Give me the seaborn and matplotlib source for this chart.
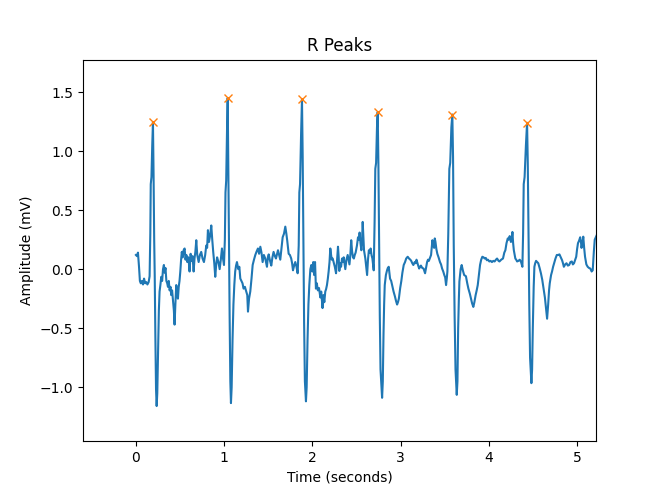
import numpy as np
import pandas as pd
import seaborn as sns
import matplotlib as mpl
mpl.use("Agg")
import matplotlib.pyplot as plt

# ECG trace, (time in s, amplitude in mV)
ecg_points = [
    (0.000, 0.12), (0.012, 0.11), (0.023, 0.14), (0.035, 0.02), (0.045, -0.10),
    (0.055, -0.12), (0.068, -0.10), (0.080, -0.13), (0.092, -0.08), (0.105, -0.12),
    (0.118, -0.11), (0.130, -0.13), (0.144, -0.11), (0.155, -0.06), (0.163, 0.30),
    (0.168, 0.72), (0.176, 0.78), (0.185, 1.05), (0.193, 1.245), (0.200, 0.80),
    (0.207, 0.25), (0.213, -0.05), (0.220, -0.55), (0.228, -1.02), (0.235, -1.16),
    (0.242, -1.05), (0.250, -0.75), (0.260, -0.35), (0.268, -0.19), (0.278, -0.13),
    (0.287, -0.065), (0.297, -0.10), (0.307, 0.00), (0.317, 0.035), (0.325, -0.03),
    (0.335, 0.01), (0.345, -0.10), (0.355, -0.12), (0.363, -0.15), (0.372, -0.10),
    (0.382, -0.18), (0.392, -0.15), (0.400, -0.22), (0.410, -0.18), (0.420, -0.26),
    (0.430, -0.35), (0.438, -0.47), (0.447, -0.30), (0.457, -0.135), (0.466, -0.20),
    (0.476, -0.25), (0.485, -0.15), (0.494, -0.10), (0.503, -0.02), (0.512, 0.08),
    (0.520, 0.146), (0.530, 0.10), (0.540, 0.16), (0.552, 0.175), (0.562, 0.08),
    (0.572, 0.12), (0.582, 0.06), (0.595, 0.10), (0.608, -0.02), (0.620, 0.13),
    (0.630, 0.07), (0.642, 0.11), (0.654, -0.02), (0.664, 0.09), (0.674, 0.15),
    (0.684, 0.245), (0.695, 0.12), (0.711, 0.06), (0.725, 0.12), (0.740, 0.146),
    (0.755, 0.09), (0.771, 0.06), (0.785, 0.12), (0.797, 0.20), (0.807, 0.18),
    (0.816, 0.33), (0.828, 0.23), (0.840, 0.28), (0.854, 0.37), (0.865, 0.25),
    (0.876, 0.146), (0.888, 0.05), (0.899, -0.065), (0.910, 0.04), (0.920, 0.10),
    (0.935, 0.06), (0.949, 0.00), (0.962, 0.08), (0.975, 0.175), (0.987, 0.09),
    (0.998, 0.035), (1.008, 0.25), (1.015, 0.65), (1.023, 0.75), (1.033, 1.20),
    (1.040, 1.45), (1.047, 0.90), (1.055, 0.20), (1.062, -0.40), (1.070, -0.95),
    (1.077, -1.135), (1.085, -1.00), (1.095, -0.60), (1.105, -0.30), (1.115, -0.135),
    (1.125, -0.02), (1.135, 0.03), (1.145, 0.06), (1.160, 0.00), (1.172, 0.02),
    (1.183, -0.08), (1.195, -0.10), (1.208, -0.12), (1.220, -0.165), (1.235, -0.15),
    (1.250, -0.19), (1.262, -0.22), (1.270, -0.36), (1.282, -0.25), (1.296, -0.19),
    (1.310, -0.08), (1.323, 0.035), (1.338, 0.08), (1.353, 0.12), (1.368, 0.15),
    (1.383, 0.175), (1.396, 0.13), (1.410, 0.19), (1.423, 0.14), (1.436, 0.06),
    (1.450, 0.12), (1.466, 0.09), (1.485, 0.02), (1.495, 0.10), (1.505, 0.125),
    (1.520, 0.07), (1.534, 0.03), (1.547, 0.10), (1.560, 0.146), (1.575, 0.11),
    (1.587, 0.09), (1.600, 0.13), (1.610, 0.16), (1.623, 0.12), (1.636, 0.08),
    (1.650, 0.18), (1.663, 0.27), (1.678, 0.30), (1.693, 0.36), (1.705, 0.30),
    (1.715, 0.24), (1.731, 0.13), (1.745, 0.12), (1.760, 0.09), (1.770, 0.05),
    (1.780, -0.01), (1.793, 0.03), (1.806, 0.06), (1.820, 0.02), (1.833, -0.035),
    (1.845, 0.20), (1.852, 0.65), (1.860, 0.72), (1.872, 1.15), (1.882, 1.44),
    (1.890, 0.95), (1.898, 0.20), (1.906, -0.45), (1.915, -0.95), (1.927, -1.12),
    (1.935, -1.00), (1.945, -0.60), (1.955, -0.30), (1.965, -0.135), (1.977, 0.00),
    (1.988, 0.035), (2.000, -0.02), (2.010, 0.06), (2.020, -0.05), (2.030, 0.06),
    (2.040, -0.165), (2.050, -0.12), (2.062, -0.18), (2.075, -0.16), (2.090, -0.24),
    (2.100, -0.19), (2.108, -0.26), (2.115, -0.33), (2.125, -0.22), (2.135, -0.28),
    (2.146, -0.19), (2.155, -0.17), (2.165, -0.135), (2.175, -0.08), (2.184, -0.02),
    (2.194, 0.06), (2.203, 0.175), (2.212, 0.12), (2.220, 0.08), (2.230, 0.09),
    (2.240, 0.06), (2.254, 0.02), (2.268, -0.035), (2.280, 0.08), (2.290, 0.19),
    (2.298, 0.10), (2.305, -0.015), (2.315, 0.05), (2.325, 0.02), (2.336, 0.09),
    (2.346, 0.06), (2.355, 0.10), (2.364, 0.05), (2.373, 0.00), (2.386, 0.08),
    (2.400, 0.12), (2.410, 0.08), (2.420, 0.04), (2.430, 0.12), (2.440, 0.245),
    (2.450, 0.15), (2.460, 0.10), (2.470, 0.09), (2.480, 0.12), (2.490, 0.14),
    (2.505, 0.20), (2.517, 0.27), (2.527, 0.25), (2.535, 0.31), (2.545, 0.22),
    (2.555, 0.16), (2.563, 0.25), (2.570, 0.40), (2.578, 0.28), (2.585, 0.16),
    (2.593, 0.12), (2.600, 0.09), (2.610, 0.02), (2.620, -0.05), (2.630, 0.08),
    (2.640, 0.16), (2.650, 0.14), (2.660, 0.175), (2.670, 0.12), (2.680, 0.09),
    (2.695, -0.01), (2.705, 0.40), (2.713, 0.85), (2.722, 0.90), (2.732, 1.20),
    (2.740, 1.33), (2.748, 0.90), (2.756, 0.20), (2.764, -0.40), (2.772, -0.85),
    (2.790, -1.09), (2.798, -0.95), (2.806, -0.55), (2.813, -0.30), (2.820, -0.135),
    (2.833, -0.05), (2.846, -0.01), (2.855, 0.01), (2.865, 0.02), (2.873, -0.03),
    (2.880, -0.08), (2.893, -0.10), (2.905, -0.14), (2.920, -0.19), (2.935, -0.23),
    (2.948, -0.27), (2.960, -0.30), (2.970, -0.28), (2.980, -0.25), (2.995, -0.16),
    (3.008, -0.10), (3.020, -0.03), (3.035, 0.035), (3.050, 0.06), (3.063, 0.09),
    (3.080, 0.105), (3.095, 0.09), (3.110, 0.08), (3.120, 0.07), (3.132, 0.05),
    (3.144, 0.035), (3.160, 0.06), (3.170, 0.05), (3.180, 0.08), (3.195, 0.04),
    (3.210, 0.005), (3.220, 0.02), (3.230, 0.03), (3.245, 0.01), (3.260, 0.005),
    (3.277, -0.035), (3.290, 0.02), (3.300, 0.06), (3.310, 0.08), (3.320, 0.07),
    (3.330, 0.09), (3.345, 0.12), (3.360, 0.245), (3.370, 0.20), (3.380, 0.18),
    (3.387, 0.26), (3.395, 0.23), (3.405, 0.17), (3.416, 0.13), (3.430, 0.10),
    (3.446, 0.06), (3.458, 0.04), (3.470, 0.005), (3.483, -0.02), (3.495, -0.05),
    (3.505, -0.07), (3.515, -0.135), (3.523, -0.08), (3.530, -0.02), (3.540, 0.30),
    (3.552, 0.85), (3.562, 0.90), (3.575, 1.20), (3.586, 1.31), (3.594, 0.95),
    (3.602, 0.20), (3.612, -0.40), (3.622, -0.85), (3.636, -1.065), (3.644, -0.95),
    (3.652, -0.50), (3.660, -0.25), (3.666, -0.105), (3.680, 0.00), (3.692, 0.035),
    (3.705, -0.01), (3.720, -0.05), (3.740, -0.06), (3.755, -0.12), (3.768, -0.165),
    (3.785, -0.21), (3.798, -0.25), (3.810, -0.29), (3.824, -0.32), (3.836, -0.28),
    (3.850, -0.22), (3.862, -0.18), (3.874, -0.135), (3.887, -0.05), (3.900, 0.035),
    (3.913, 0.08), (3.926, 0.105), (3.940, 0.10), (3.952, 0.09), (3.965, 0.095),
    (3.978, 0.075), (3.990, 0.08), (4.005, 0.065), (4.020, 0.07), (4.035, 0.06),
    (4.050, 0.07), (4.065, 0.065), (4.080, 0.08), (4.093, 0.09), (4.110, 0.07),
    (4.120, 0.065), (4.140, 0.08), (4.160, 0.09), (4.175, 0.14), (4.187, 0.16),
    (4.200, 0.22), (4.214, 0.26), (4.225, 0.25), (4.236, 0.28), (4.250, 0.23),
    (4.260, 0.26), (4.267, 0.315), (4.275, 0.22), (4.283, 0.16), (4.300, 0.09),
    (4.310, 0.08), (4.320, 0.065), (4.335, 0.07), (4.350, 0.08), (4.365, 0.06),
    (4.380, 0.02), (4.388, 0.30), (4.395, 0.72), (4.405, 0.78), (4.420, 1.05),
    (4.433, 1.24), (4.441, 0.90), (4.450, 0.25), (4.458, -0.30), (4.467, -0.75),
    (4.482, -0.966), (4.490, -0.85), (4.498, -0.50), (4.508, -0.15), (4.516, 0.02),
    (4.525, 0.05), (4.535, 0.07), (4.548, 0.06), (4.560, 0.05), (4.575, 0.01),
    (4.590, -0.035), (4.605, -0.09), (4.620, -0.165), (4.635, -0.24), (4.648, -0.33),
    (4.660, -0.42), (4.672, -0.30), (4.682, -0.18), (4.690, -0.12), (4.705, -0.05),
    (4.716, -0.02), (4.728, 0.02), (4.740, 0.05), (4.755, 0.09), (4.770, 0.12),
    (4.785, 0.12), (4.800, 0.125), (4.815, 0.10), (4.830, 0.075), (4.840, 0.05),
    (4.850, 0.02), (4.865, 0.04), (4.880, 0.05), (4.895, 0.03), (4.910, 0.035),
    (4.925, 0.06), (4.940, 0.065), (4.952, 0.04), (4.965, 0.05), (4.978, 0.08),
    (4.990, 0.105), (5.000, 0.17), (5.010, 0.22), (5.022, 0.24), (5.035, 0.27),
    (5.045, 0.22), (5.050, 0.18), (5.060, 0.22), (5.070, 0.275), (5.080, 0.18),
    (5.090, 0.105), (5.105, 0.04), (5.120, 0.02), (5.135, 0.01), (5.150, 0.005),
    (5.165, -0.02), (5.177, -0.01), (5.190, 0.15), (5.200, 0.25), (5.230, 0.30),
]

peak_times = [0.193, 1.040, 1.882, 2.740, 3.586, 4.433]
peak_amps = [1.245, 1.45, 1.44, 1.33, 1.31, 1.24]

x_ticks = [0, 1, 2, 3, 4, 5]
y_ticks = [-1.0, -0.5, 0.0, 0.5, 1.0, 1.5]


def main():
    ecg = pd.DataFrame(ecg_points, columns=["time", "amplitude"])
    peaks = pd.DataFrame({"time": peak_times, "amplitude": peak_amps})

    fig, ax = plt.subplots(figsize=(6.66, 5.01), dpi=100)
    fig.subplots_adjust(left=0.1246, right=0.895, top=0.881, bottom=0.12)

    sns.lineplot(data=ecg, x="time", y="amplitude", ax=ax, color="C0",
                 linewidth=1.5, estimator=None, sort=False)
    ax.plot(peaks["time"], peaks["amplitude"], "x", color="C1", markersize=6)

    ax.set_xlim(-0.6, 5.215)
    ax.set_ylim(-1.455, 1.775)
    ax.set_xticks(x_ticks)
    ax.set_yticks(y_ticks)
    ax.set_title("R Peaks")
    ax.set_xlabel("Time (seconds)")
    ax.set_ylabel("Amplitude (mV)")

    fig.savefig("out.png", dpi=100)


if __name__ == "__main__":
    main()
